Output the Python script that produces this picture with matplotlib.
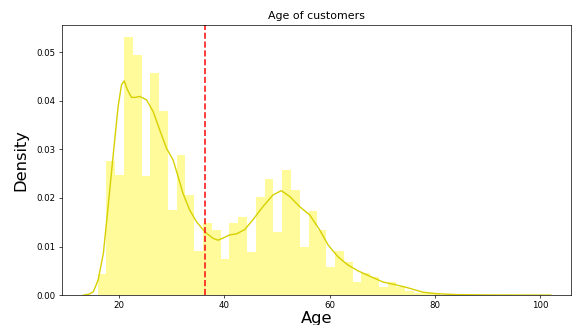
import matplotlib
matplotlib.use('Agg')
import matplotlib.pyplot as plt
import numpy as np

rcParams = plt.rcParams
rcParams['font.family'] = 'DejaVu Sans'
rcParams['axes.linewidth'] = 0.5
rcParams['xtick.major.width'] = 0.5
rcParams['ytick.major.width'] = 0.5
rcParams['xtick.major.size'] = 2.2
rcParams['ytick.major.size'] = 2.2

# histogram: 50 bins starting at 15.9, width ~1.67 years
bin_start = 15.9
bin_width = 1.67
hist_density = [
    0.0043, 0.0277, 0.0247, 0.0532, 0.0495, 0.0246, 0.0458, 0.0378, 0.0175, 0.0288,
    0.0207, 0.0090, 0.0148, 0.0135, 0.0074, 0.0148, 0.0161, 0.0088, 0.0202, 0.0239,
    0.0129, 0.0257, 0.0217, 0.0100, 0.0173, 0.0134, 0.0057, 0.0091, 0.0068, 0.0027,
    0.0046, 0.0038, 0.0016, 0.0026, 0.0017, 0.0009, 0.0004, 0.0004, 0.0002, 0.0001,
    0.0001, 0.0001, 0.0000, 0.0001, 0.0000, 0.0000, 0.0000, 0.0000, 0.0000, 0.0001,
]

# kde curve
kde_age = [13.2, 14.3, 15.1, 16.0, 17.0, 17.9, 18.9, 19.8, 20.45, 20.95, 21.6, 22.35,
           23.1, 23.9, 25.2, 26.45, 27.7, 29.0, 30.25, 31.2, 32.1, 33.4, 34.7, 36.3,
           37.8, 38.8, 40.05, 41.0, 42.3, 43.85, 45.4, 47.3, 49.2, 50.8, 52.4,
           54.3, 56.2, 58.1, 59.7, 61.55, 63.45, 65.35, 67.6, 70.1, 72.6, 74.5,
           75.8, 77.7, 80.2, 84.0, 90.0, 96.0, 102.0]
kde_density = [0.0, 0.0002, 0.0007, 0.0031, 0.0086, 0.0182, 0.0292, 0.0388, 0.0433,
               0.0441, 0.0422, 0.0407, 0.0407, 0.0409, 0.0402, 0.0378, 0.0340, 0.0302,
               0.0278, 0.0244, 0.0210, 0.0175, 0.0151, 0.0130, 0.0117, 0.0113, 0.0119,
               0.0124, 0.0126, 0.0135, 0.0155, 0.0182, 0.0206, 0.0215, 0.0203, 0.0182,
               0.0165, 0.0134, 0.0103, 0.0079, 0.0062, 0.0050, 0.0039, 0.0027, 0.0021,
               0.0016, 0.0012, 0.0006, 0.0003, 0.0001, 0.00003, 0.00001, 0.0]

mean_age = 36.4

fig = plt.figure(figsize=(5.72, 3.25), dpi=100)
ax = fig.add_axes([0.108, 0.092, 0.89, 0.831])

edges = bin_start + bin_width * np.arange(len(hist_density))
ax.bar(edges, hist_density, width=bin_width, align='edge',
       color='#FFFA9A', linewidth=0)
ax.plot(kde_age, kde_density, color='#D6D000', linewidth=1.0)
ax.axvline(mean_age, color='#FF1A1A', linestyle='--', linewidth=1.2)

ax.set_xlim(9.1, 105.8)
ax.set_ylim(0, 0.0556)
ax.set_xticks([20, 40, 60, 80, 100])
ax.set_yticks([0.0, 0.01, 0.02, 0.03, 0.04, 0.05])
ax.tick_params(labelsize=6.2, pad=2)

ax.set_title('Age of customers', fontsize=7.9, pad=4)
ax.set_xlabel('Age', fontsize=11.7, labelpad=1)
ax.set_ylabel('Density', fontsize=11.7, labelpad=6)

fig.savefig('out.png', dpi=100)
